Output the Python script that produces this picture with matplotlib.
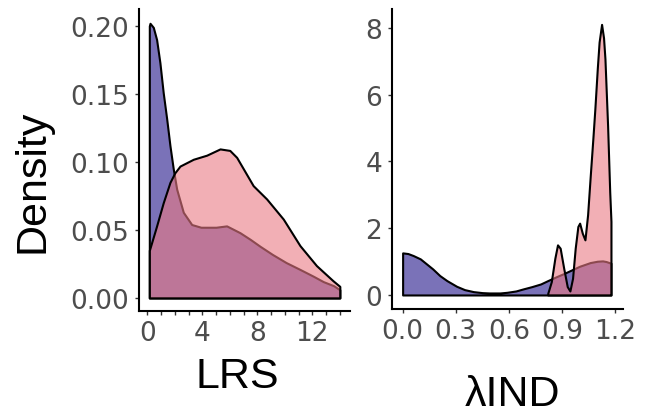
import matplotlib
matplotlib.use("Agg")
import matplotlib.pyplot as plt

# ---- data ----
lrs_x_blue = [0.15, 0.2, 0.44, 0.68, 0.92, 1.16, 1.41, 1.65, 1.89, 2.14, 2.62, 3.23, 3.9,
              5.0, 5.77, 6.74, 7.5, 8.2, 9.1, 10.1, 11.1, 12.07, 12.8, 13.55, 14.0]
lrs_y_blue = [0.200, 0.202, 0.199, 0.190, 0.173, 0.151, 0.132, 0.112, 0.095, 0.080, 0.063, 0.054, 0.052,
              0.052, 0.053, 0.048, 0.043, 0.038, 0.032, 0.026, 0.021, 0.016, 0.012, 0.009, 0.006]

lrs_x_pink = [0.15, 0.68, 1.16, 1.65, 2.0, 2.38, 3.35, 4.32, 5.29, 6.0, 6.5, 7.1, 7.7, 8.68,
              9.89, 11.1, 12.3, 13.5, 14.0]
lrs_y_pink = [0.035, 0.053, 0.070, 0.085, 0.092, 0.097, 0.102, 0.105, 0.1096, 0.1085, 0.1034, 0.093,
              0.0826, 0.0728, 0.058, 0.0385, 0.0238, 0.0127, 0.0085]

lam_x_blue = [0.0, 0.03, 0.06, 0.1, 0.135, 0.17, 0.21, 0.25, 0.305, 0.35, 0.4, 0.45, 0.49, 0.55,
              0.59, 0.64, 0.68, 0.73, 0.78, 0.82, 0.87, 0.91, 0.955, 1.0, 1.06, 1.1, 1.13, 1.15, 1.177]
lam_y_blue = [1.26, 1.24, 1.18, 1.08, 0.93, 0.78, 0.58, 0.43, 0.26, 0.16, 0.10, 0.07, 0.06, 0.06,
              0.08, 0.12, 0.18, 0.25, 0.33, 0.43, 0.55, 0.64, 0.75, 0.86, 0.97, 1.01, 1.02, 1.0, 0.95]

lam_x_pink = [0.82, 0.84, 0.86, 0.875, 0.89, 0.91, 0.93, 0.945, 0.96, 0.975, 0.99, 1.0, 1.015,
              1.03, 1.045, 1.06, 1.075, 1.086, 1.1, 1.11, 1.124, 1.135, 1.143, 1.158, 1.17, 1.177]
lam_y_pink = [0.05, 0.4, 1.1, 1.5, 1.4, 0.8, 0.25, 0.12, 0.5, 1.4, 2.05, 2.15, 1.85,
              1.65, 2.4, 3.57, 4.7, 5.57, 6.8, 7.57, 8.1, 7.7, 7.07, 5.07, 3.08, 2.2]

lrs_xticks = list(range(0, 15))
lrs_xticklabels = ["0", "", "", "", "4", "", "", "", "8", "", "", "", "12", "", ""]
lrs_yticks = [0.00, 0.05, 0.10, 0.15, 0.20]
lrs_yticklabels = ["0.00", "0.05", "0.10", "0.15", "0.20"]
lam_xticks = [0.0, 0.3, 0.6, 0.9, 1.2]
lam_xticklabels = ["0.0", "0.3", "0.6", "0.9", "1.2"]
lam_yticks = [0, 2, 4, 6, 8]
lam_yticklabels = ["0", "2", "4", "6", "8"]

BLUE = (33 / 255, 20 / 255, 137 / 255, 0.6)
PINK = (234 / 255, 122 / 255, 132 / 255, 0.6)
LABEL_FONT = "Liberation Sans"
TICK_FONT = "DejaVu Sans"
TICK_COLOR = "#4D4D4D"

fig = plt.figure(figsize=(6.45, 4.14), dpi=100)
ax1 = fig.add_axes([139 / 645, 1 - 312 / 414, 211 / 645, 302 / 414])
ax2 = fig.add_axes([392 / 645, 1 - 310 / 414, 231 / 645, 300 / 414])


def style(ax):
    for s in ("top", "right"):
        ax.spines[s].set_visible(False)
    for s in ("left", "bottom"):
        ax.spines[s].set_linewidth(1.5)
        ax.spines[s].set_color("black")
    ax.tick_params(axis="both", direction="out", length=2.6, width=1.0, color="#333333",
                   labelsize=19, labelcolor=TICK_COLOR)
    ax.tick_params(axis="y", pad=4.5)
    ax.tick_params(axis="x", pad=4)
    for lab in ax.get_xticklabels() + ax.get_yticklabels():
        lab.set_family(TICK_FONT)


def density(ax, x, y, color):
    ax.fill_between(x, 0, y, facecolor=color, edgecolor="black", linewidth=1.5)


density(ax1, lrs_x_blue, lrs_y_blue, BLUE)
density(ax1, lrs_x_pink, lrs_y_pink, PINK)
density(ax2, lam_x_blue, lam_y_blue, BLUE)
density(ax2, lam_x_pink, lam_y_pink, PINK)

ax1.set_xlim(-0.6, 14.74)
ax1.set_ylim(-0.0096, 0.2125)
ax1.set_xticks(lrs_xticks)
ax1.set_xticklabels(lrs_xticklabels)
ax1.set_yticks(lrs_yticks)
ax1.set_yticklabels(lrs_yticklabels)

ax2.set_xlim(-0.06, 1.245)
ax2.set_ylim(-0.42, 8.56)
ax2.set_xticks(lam_xticks)
ax2.set_xticklabels(lam_xticklabels)
ax2.set_yticks(lam_yticks)
ax2.set_yticklabels(lam_yticklabels)

style(ax1)
style(ax2)

ax1.set_ylabel("Density", fontsize=31, family=LABEL_FONT, color="black",
               ha="center", va="center")
ax1.yaxis.set_label_coords((32 - 139) / 211, (312 - 181) / 302)
ax1.set_xlabel("LRS", fontsize=31, family=LABEL_FONT, color="black",
               ha="center", va="center")
ax1.xaxis.set_label_coords((237 - 139) / 211, (312 - 377) / 302)
ax2.set_xlabel("λIND", fontsize=31, family=LABEL_FONT, color="black",
               ha="center", va="center")
ax2.xaxis.set_label_coords((512 - 392) / 231, (310 - 395) / 300)

fig.savefig("out.png", dpi=100)
